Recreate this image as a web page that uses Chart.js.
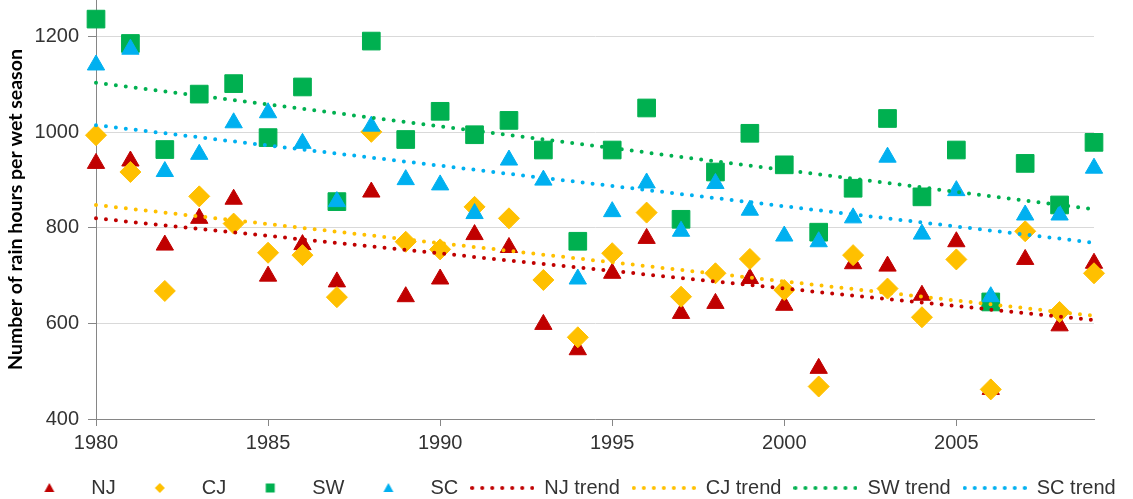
<!DOCTYPE html>
<html>
<head>
<meta charset="utf-8">
<title>Rain hours per wet season</title>
<script src="https://cdn.jsdelivr.net/npm/chart.js@4.4.1/dist/chart.umd.min.js"></script>
<style>
  html, body { margin: 0; padding: 0; background: #ffffff; }
  #wrap { width: 1133px; height: 499px; }
</style>
</head>
<body>
<div id="wrap"><canvas id="rainChart" width="1133" height="499"></canvas></div>
<script>
// Rain hours per wet season, 1980-2009, for four regions
const years = [1980, 1981, 1982, 1983, 1984, 1985, 1986, 1987, 1988, 1989,
               1990, 1991, 1992, 1993, 1994, 1995, 1996, 1997, 1998, 1999,
               2000, 2001, 2002, 2003, 2004, 2005, 2006, 2007, 2008, 2009];

const nj = [935, 940, 764, 820, 860, 699, 765, 687, 875, 656,
            693, 786, 759, 598, 545, 705, 778, 621, 642, 694,
            638, 506, 725, 720, 659, 771, 462, 734, 595, 726];
const cj = [994, 917, 668, 866, 809, 748, 743, 655, 1001, 771,
            755, 844, 820, 691, 571, 747, 832, 656, 705, 735,
            670, 468, 743, 673, 613, 734, 462, 793, 624, 705];
const sw = [1237, 1186, 964, 1080, 1102, 989, 1095, 855, 1191, 985,
            1044, 995, 1025, 963, 772, 963, 1051, 818, 917, 998,
            932, 791, 883, 1029, 865, 963, 645, 935, 848, 979];
const sc = [1141, 1174, 918, 954, 1020, 1041, 977, 855, 1013, 901,
            890, 830, 942, 900, 693, 834, 894, 793, 893, 837,
            783, 771, 821, 948, 787, 878, 656, 827, 827, 925];

// linear trend, value at first and last year
const trendYears = [1980, 2009];
const njTrend = [820, 607];
const cjTrend = [848, 616];
const swTrend = [1104, 839];
const scTrend = [1015, 769];

const yTicks = [400, 600, 800, 1000, 1200];

const RED = '#C00000', GOLD = '#FFC000', GREEN = '#00B050', BLUE = '#00B0F0';
const AXIS = '#868686', GRID = '#D9D9D9', TEXT = '#333333';
const FONT = "'Liberation Sans', Arial, sans-serif";

function pts(xs, ys) {
    return xs.map((x, i) => ({ x: x, y: ys[i] }));
}

function markerSet(label, values, color, style, radius, order) {
    return {
        label: label,
        data: pts(years, values),
        pointStyle: style,
        pointRadius: radius,
        backgroundColor: color,
        borderColor: color,
        borderWidth: 1,
        clip: false,
        order: order
    };
}

function trendSet(label, values, color, order) {
    return {
        label: label,
        data: pts(trendYears, values),
        showLine: true,
        pointRadius: 0,
        borderColor: color,
        backgroundColor: color,
        borderWidth: 4,
        borderDash: [0, 10],
        borderCapStyle: 'round',
        clip: false,
        order: order
    };
}

/* ── small legend symbols, 64px wide so the text lines up ── */
function legendSymbol(kind, color) {
    const c = document.createElement('canvas');
    c.width = 64; c.height = 12;
    const g = c.getContext('2d');
    const cx = 32, cy = 6;
    g.fillStyle = color;
    g.beginPath();
    if (kind === 'triangle') {
        g.moveTo(cx, cy - 5); g.lineTo(cx + 5, cy + 4); g.lineTo(cx - 5, cy + 4);
    } else if (kind === 'diamond') {
        g.moveTo(cx, cy - 5); g.lineTo(cx + 5, cy); g.lineTo(cx, cy + 5); g.lineTo(cx - 5, cy);
    } else if (kind === 'square') {
        g.rect(cx - 4.5, cy - 4.5, 9, 9);
    } else {
        for (let i = 0; i < 7; i++) {
            g.moveTo(2 + i * 10 + 2, cy);
            g.arc(2 + i * 10, cy, 2, 0, Math.PI * 2);
        }
    }
    g.closePath();
    g.fill();
    return c;
}

const legendEntries = [
    ['NJ', 'triangle', RED], ['CJ', 'diamond', GOLD], ['SW', 'square', GREEN], ['SC', 'triangle', BLUE],
    ['NJ trend', 'dots', RED], ['CJ trend', 'dots', GOLD], ['SW trend', 'dots', GREEN], ['SC trend', 'dots', BLUE]
];

const ctx = document.getElementById('rainChart').getContext('2d');

new Chart(ctx, {
    type: 'scatter',
    data: {
        datasets: [
            markerSet('NJ', nj, RED, 'triangle', 10, 8),
            markerSet('CJ', cj, GOLD, 'rectRot', 10.5, 7),
            markerSet('SW', sw, GREEN, 'rect', 12.5, 6),
            markerSet('SC', sc, BLUE, 'triangle', 10, 5),
            trendSet('NJ trend', njTrend, RED, 4),
            trendSet('CJ trend', cjTrend, GOLD, 3),
            trendSet('SW trend', swTrend, GREEN, 2),
            trendSet('SC trend', scTrend, BLUE, 1)
        ]
    },
    options: {
        responsive: false,
        animation: false,
        events: [],
        // the plot runs right up to the top edge
        layout: { padding: 0, autoPadding: false },
        plugins: {
            tooltip: { enabled: false },
            legend: {
                position: 'bottom',
                maxHeight: 33,
                labels: {
                    usePointStyle: true,
                    pointStyleWidth: 64,
                    padding: 12,
                    color: TEXT,
                    font: { family: FONT, size: 20 },
                    generateLabels: () => legendEntries.map((e, i) => ({
                        text: e[0],
                        pointStyle: legendSymbol(e[1], e[2]),
                        fillStyle: e[2],
                        strokeStyle: e[2],
                        lineWidth: 0,
                        fontColor: TEXT,
                        hidden: false,
                        datasetIndex: i
                    }))
                }
            }
        },
        scales: {
            x: {
                type: 'linear',
                min: 1980,
                max: 2009,
                border: { color: AXIS, width: 1 },
                grid: { drawOnChartArea: false, tickLength: 7, tickColor: AXIS },
                ticks: {
                    stepSize: 5,
                    includeBounds: false,
                    padding: 5,
                    color: TEXT,
                    font: { family: FONT, size: 20 },
                    callback: (v) => String(v)
                },
                afterFit: (s) => { s.height = 47; }
            },
            y: {
                min: 400,
                max: 1277,
                border: { color: AXIS, width: 1 },
                grid: { color: GRID, lineWidth: 1, tickLength: 8, tickColor: AXIS },
                afterBuildTicks: (s) => { s.ticks = yTicks.map(v => ({ value: v })); },
                ticks: {
                    padding: 9,
                    color: TEXT,
                    font: { family: FONT, size: 20 },
                    callback: (v) => String(v)
                },
                title: {
                    display: true,
                    text: 'Number of rain hours per wet season',
                    color: '#000000',
                    font: { family: "Lato, 'Open Sans', sans-serif", size: 19.5, weight: 'bold' },
                    padding: { top: 4, bottom: 0 }
                },
                afterFit: (s) => {
                    s.width = 96;
                    s.paddingTop = 0;
                    s.paddingBottom = 0;
                }
            },
            // empty strip on the right so the plot ends at 2009
            yRight: {
                position: 'right',
                display: true,
                grid: { display: false, drawTicks: false },
                border: { display: false },
                ticks: { display: false },
                afterFit: (s) => { s.width = 39; }
            }
        }
    }
});
</script>
</body>
</html>
